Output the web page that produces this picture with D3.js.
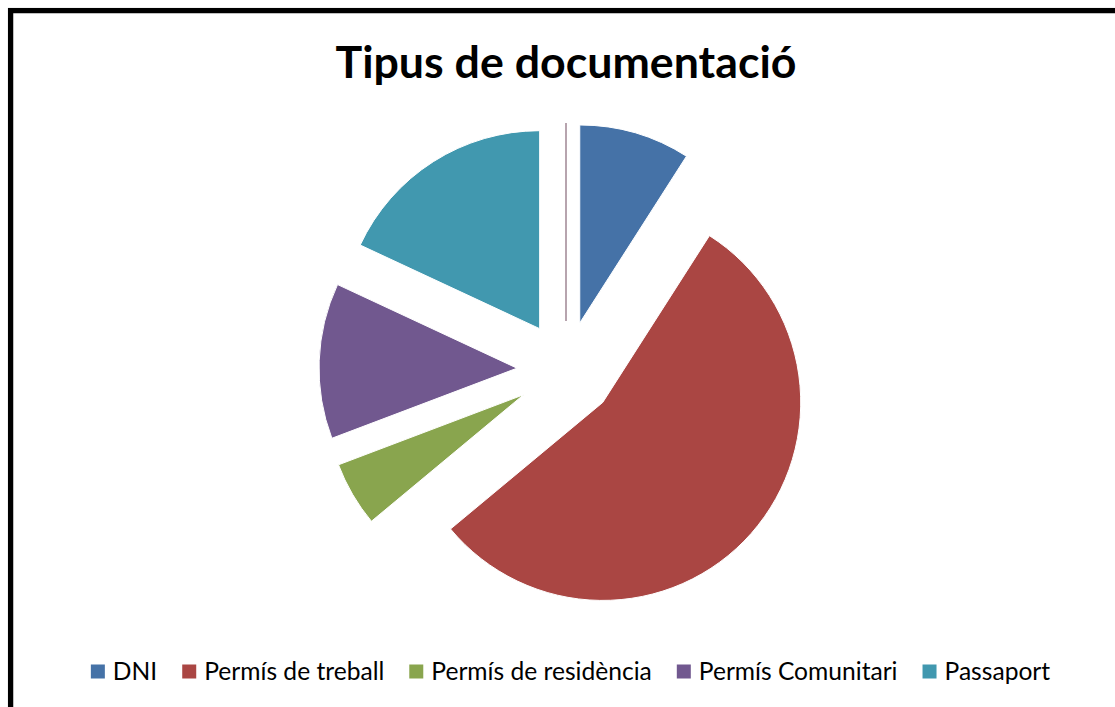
<!DOCTYPE html>
<html>
<head>
<meta charset="utf-8">
<script src="https://cdn.jsdelivr.net/npm/d3@7"></script>
<style>
  body { margin: 0; background: #fff; }
  svg { display: block; }
</style>
</head>
<body>
<svg id="chart"></svg>
<script>
// data (percent of total)
var categories = ["DNI", "Permís de treball", "Permís de residència", "Permís Comunitari", "Passaport", ""];
var values = [9.06, 54.9, 5.28, 12.7, 18.06, 0];
var colors = ["#4572A7", "#AA4643", "#89A54E", "#71588F", "#4198AF", "#b7a4ae"];
var title = "Tipus de documentació";

var W = 1115, H = 707;
var cx = 566, cy = 370, radius = 198, explode = 49;

var svg = d3.select("#chart").attr("width", W).attr("height", H);

// outer frame, runs off the right/bottom edge like the screenshot
svg.append("rect")
  .attr("x", 10.6).attr("y", 10.6)
  .attr("width", 1130).attr("height", 720)
  .attr("fill", "none")
  .attr("stroke", "#000")
  .attr("stroke-width", 5.3);

svg.append("text")
  .attr("x", cx).attr("y", 78)
  .attr("text-anchor", "middle")
  .style("font-family", "Lato, 'Open Sans', sans-serif")
  .style("font-weight", "bold")
  .style("font-size", "44.7px")
  .attr("fill", "#000")
  .text(title);

var data = categories.map(function(c, i) { return {name: c, value: values[i], color: colors[i]}; });

var pie = d3.pie().sort(null).value(function(d) { return d.value; });
var arc = d3.arc().innerRadius(0).outerRadius(radius);

var g = svg.append("g").attr("transform", "translate(" + cx + "," + cy + ")");

g.selectAll("path")
  .data(pie(data))
  .enter()
  .append("path")
  .attr("transform", function(d) {
    var a = (d.startAngle + d.endAngle) / 2;
    return "translate(" + (explode * Math.sin(a)) + "," + (-explode * Math.cos(a)) + ")";
  })
  .attr("d", arc)
  .attr("fill", function(d) { return d.data.color; })
  .attr("stroke", function(d) { return d.value === 0 ? d.data.color : "#fff"; })
  .attr("stroke-width", function(d) { return d.value === 0 ? 2 : 1; });

// legend
var legendData = data.filter(function(d) { return d.name !== ""; });
var legend = svg.append("g");
var items = legend.selectAll("g")
  .data(legendData)
  .enter()
  .append("g");

items.append("rect")
  .attr("width", 14).attr("height", 14)
  .attr("y", 664.5)
  .attr("fill", function(d) { return d.color; });

items.append("text")
  .attr("x", 22).attr("y", 680)
  .style("font-family", "Lato, 'Open Sans', sans-serif")
  .style("font-size", "24.6px")
  .attr("fill", "#000")
  .text(function(d) { return d.name; });

var x = 0, pos = [];
items.each(function() {
  pos.push(x);
  var tw = d3.select(this).select("text").node().getComputedTextLength();
  x += 22 + tw + 25;
});
var total = x - 25;
var start = 570.5 - total / 2;
items.attr("transform", function(d, i) { return "translate(" + (start + pos[i]) + ",0)"; });
</script>
</body>
</html>
